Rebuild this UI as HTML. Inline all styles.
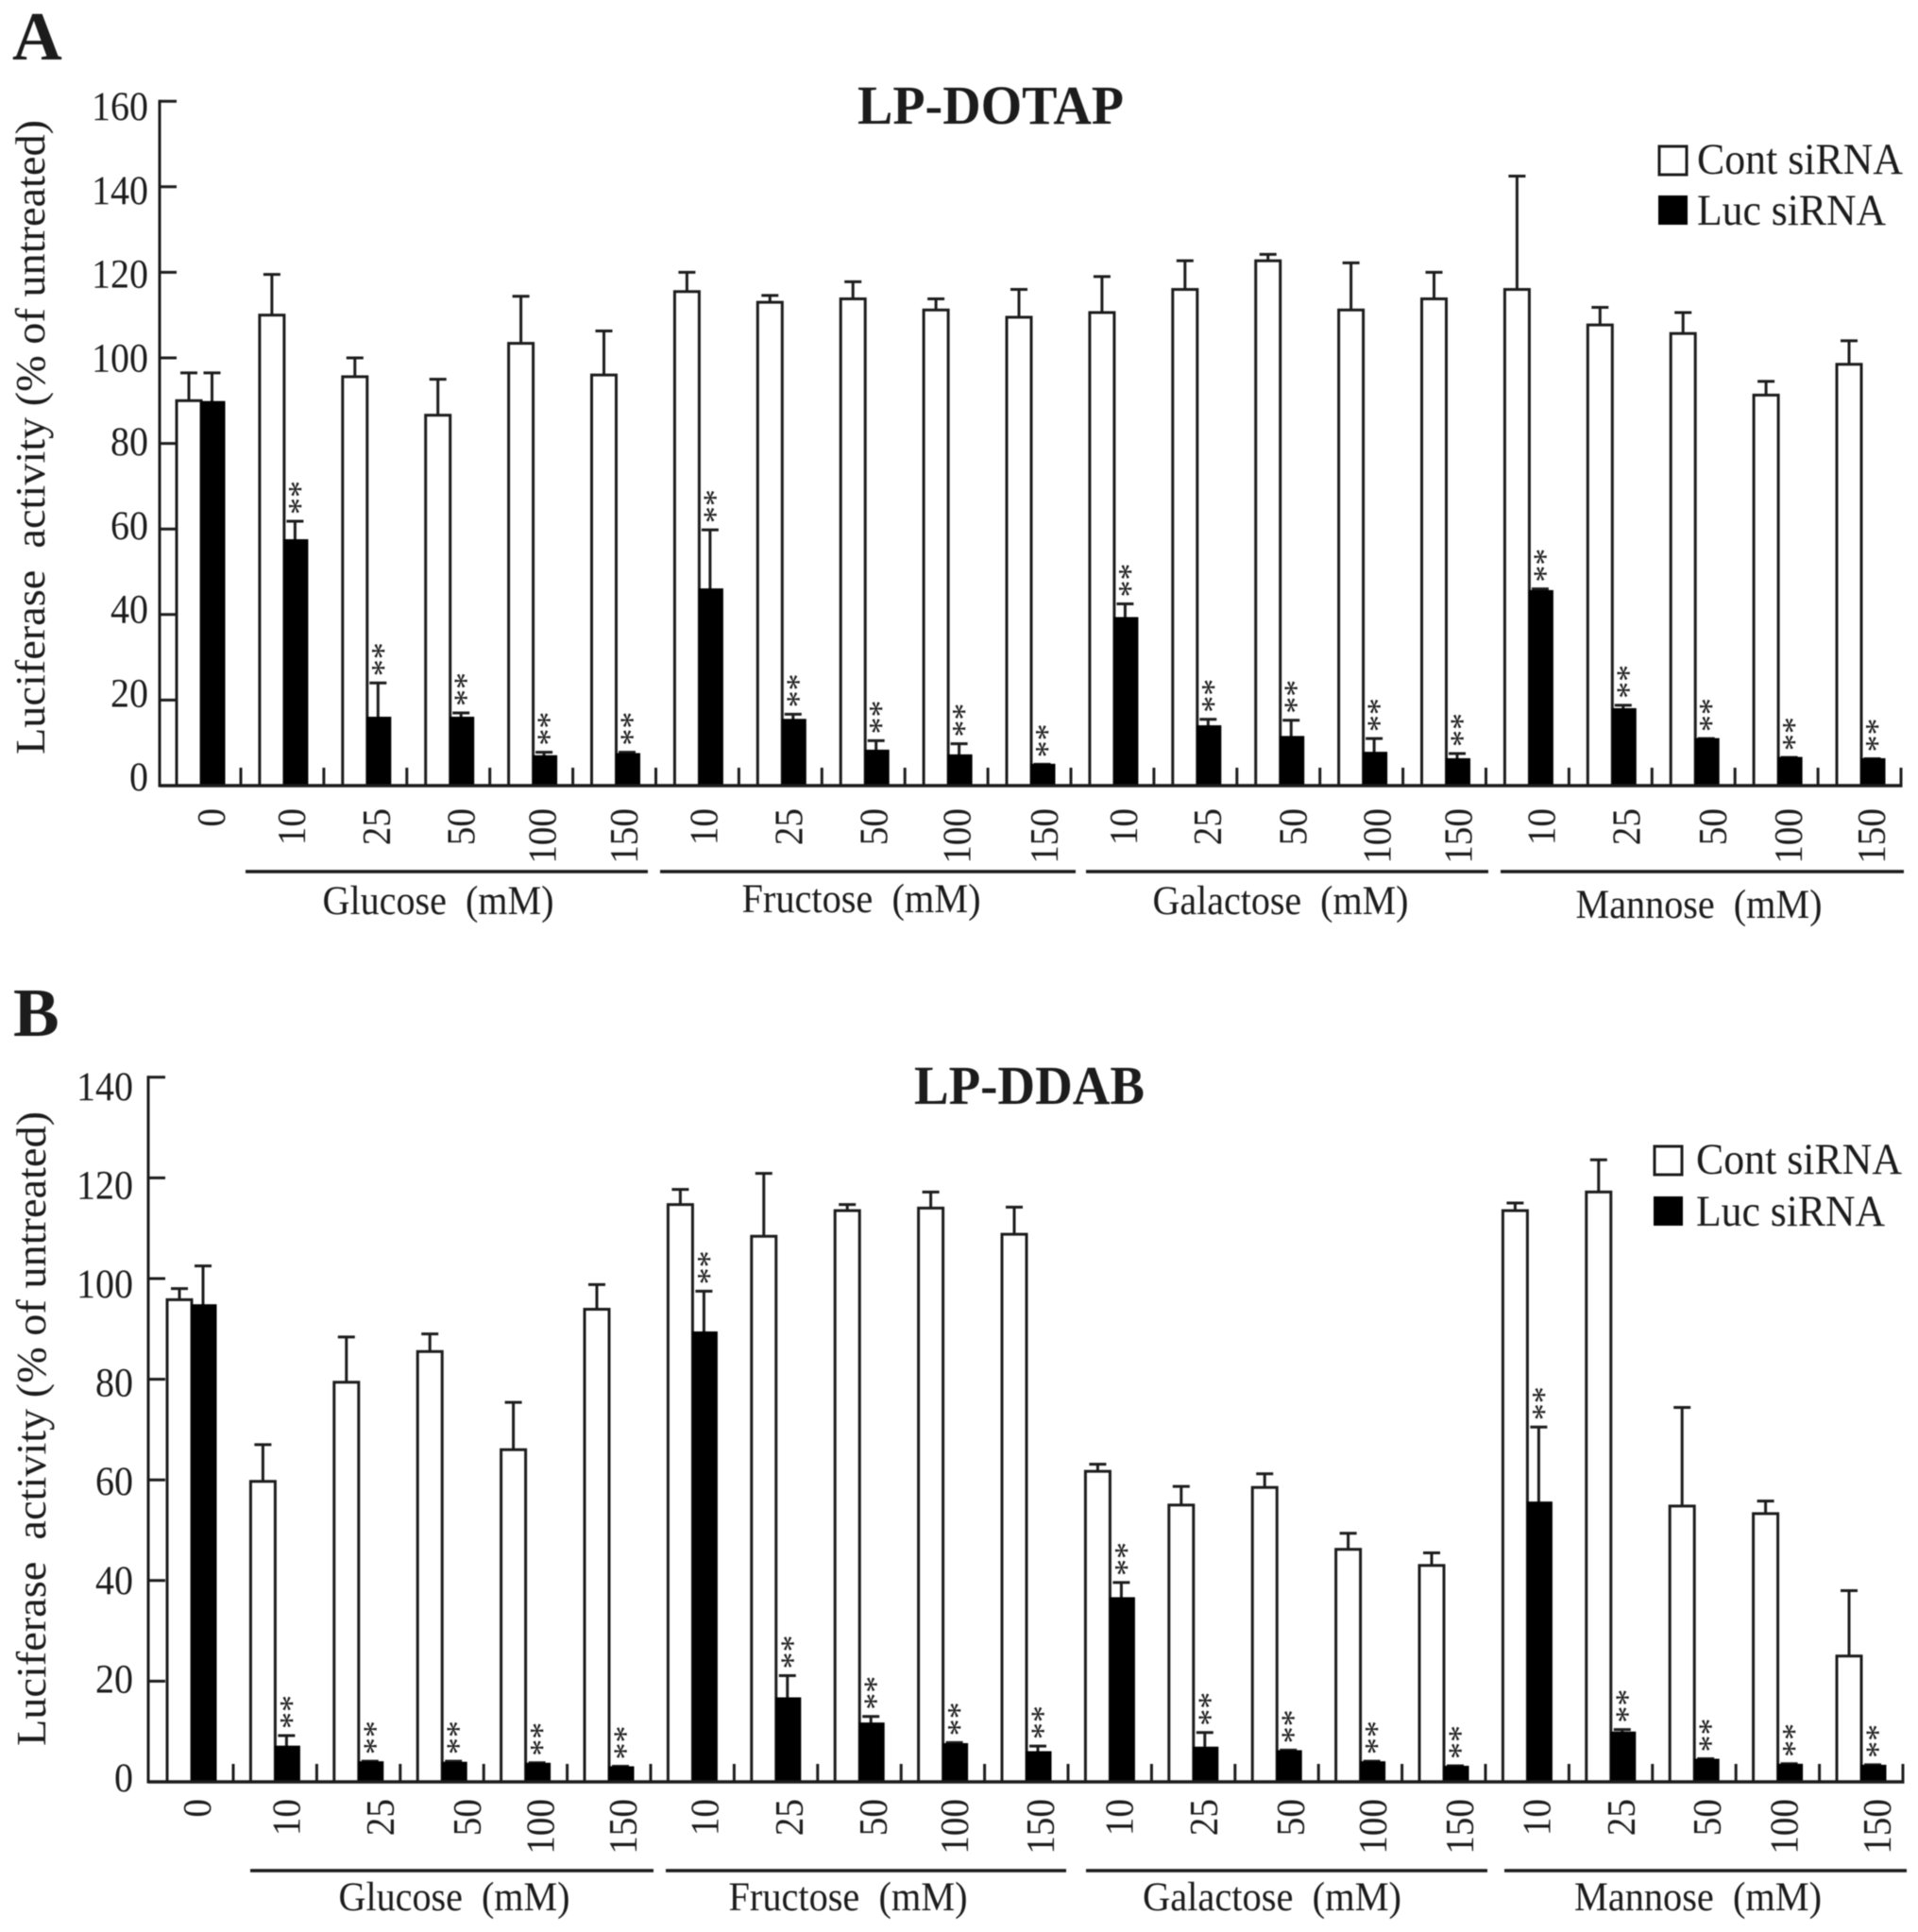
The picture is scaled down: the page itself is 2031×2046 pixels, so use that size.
<!DOCTYPE html>
<html lang="en">
<head>
<meta charset="utf-8">
<title>Luciferase activity – LP-DOTAP and LP-DDAB</title>
<style>
html,body{margin:0;padding:0;background:#fff;}
svg{display:block;filter:blur(0.5px);}
text{font-family:"Liberation Serif",serif;fill:#1c1c1c;white-space:pre;}
</style>
</head>
<body>
<svg id="figure" xmlns="http://www.w3.org/2000/svg" width="2031" height="2046" viewBox="0 0 2031 2046"></svg>
<script>
// Shared categories
const concentrations = ["0","10","25","50","100","150","10","25","50","100","150","10","25","50","100","150","10","25","50","100","150"];
const sugarGroups = ["Glucose  (mM)","Fructose  (mM)","Galactose  (mM)","Mannose  (mM)"];
const seriesNames = ["Cont siRNA","Luc siRNA"];

// Panel A – LP-DOTAP
const dotapTicks = [0,20,40,60,80,100,120,140,160];
const dotapCont = [90,110,95.6,86.6,103.4,96,115.5,113,113.8,111.2,109.5,110.6,116,122.7,111.2,113.8,116,107.7,105.7,91.3,98.5];
const dotapContErrTop = [96.5,119.5,100,95,114.4,106.3,120,114.6,117.8,113.8,116,119,122.7,124.2,122.2,120,142.5,111.8,110.6,94.5,104];
const dotapLuc = [89.8,57.5,16,16,7,7.5,46,15.5,8.3,7.2,5,39.3,14,11.5,7.8,6.3,45.6,18,11,6.6,6.3];
const dotapLucErrTop = [96.5,61.8,24,17,7.8,7.8,59.8,16.7,10.5,9.8,5,42.5,15.5,15.3,11,7.5,46,18.8,11,6.6,6.3];

// Panel B – LP-DDAB
const ddabTicks = [0,20,40,60,80,100,120,140];
const ddabCont = [95.8,59.7,79.4,85.5,66,93.9,114.7,108.4,113.5,114,108.8,61.7,55,58.5,46.2,43,113.5,117.2,54.8,53.3,25];
const ddabContErrTop = [98,67,88.4,89,75.4,98.8,117.7,120.9,114.7,117.2,114.2,63.1,58.7,61.2,49.4,45.5,115,123.6,74.4,55.8,38];
const ddabLuc = [94.8,7.1,4,3.9,3.7,3,89.4,16.7,11.7,7.6,6,36.6,6.9,6.2,4,3.1,55.6,9.9,4.5,3.5,3.3];
const ddabLucErrTop = [102.5,9.2,4.1,4.1,3.8,3.1,97.5,21.1,13,7.8,7.1,39.6,9.8,6.3,4.1,3.2,70.5,10.4,4.6,3.6,3.4];

const NS = "http://www.w3.org/2000/svg";
const INK = "#1c1c1c";
const svg = document.getElementById("figure");

function shape(tag, attrs, parent) {
  const el = document.createElementNS(NS, tag);
  for (const k in attrs) el.setAttribute(k, attrs[k]);
  parent.appendChild(el);
  return el;
}

function drawPanel(cfg) {
  const root = shape("g", {}, svg);
  
  

  const yScale = v => cfg.y0 - v * cfg.pxPerUnit;
  const xBand = i => cfg.x0 + i * cfg.step;
  const xTick = i => cfg.tick0 + i * cfg.step;
  const maxTick = cfg.ticks[cfg.ticks.length - 1];

  // Panel letter
  const letter = shape("text", {x: cfg.letterX, y: cfg.letterY, "font-size": 73, "font-weight": "bold"}, root);
  
  
  letter.textContent = cfg.letter;

  // Chart title
  const title = shape("text", {x: cfg.titleX, y: cfg.titleY, "font-size": 58, "font-weight": "bold", "text-anchor": "middle", textLength: cfg.titleLen, lengthAdjust: "spacingAndGlyphs"}, root);
  
  
  title.textContent = cfg.title;

  // Y axis title
  const yTitle = shape("text", {x: cfg.yTitleX, y: cfg.yTitleY, "font-size": 44, textLength: 672, lengthAdjust: "spacingAndGlyphs", transform: `rotate(-90 ${cfg.yTitleX} ${cfg.yTitleY})`}, root);
  
  
  yTitle.textContent = "Luciferase  activity (% of untreated)";

  // Bars and error bars
  cfg.cont.forEach((v, i) => {
    const x = xBand(i);
    const cx = x + cfg.contW / 2;
    const bar = shape("rect", {x: x, y: yScale(v), width: cfg.contW, height: cfg.y0 - yScale(v), fill: "#fff", stroke: INK, "stroke-width": 3}, root);
    
    
    const stem = shape("line", {x1: cx, x2: cx, y1: yScale(v), y2: yScale(cfg.contErr[i]), stroke: INK, "stroke-width": 3}, root);
    
    
    const cap = shape("line", {x1: cx - 9, x2: cx + 9, y1: yScale(cfg.contErr[i]), y2: yScale(cfg.contErr[i]), stroke: INK, "stroke-width": 3}, root);
    
    
  });
  cfg.luc.forEach((v, i) => {
    const x = xBand(i) + cfg.contW;
    const cx = x + cfg.lucW / 2 - 1;
    const top = yScale(cfg.lucErr[i]);
    const stem = shape("line", {x1: cx, x2: cx, y1: yScale(v), y2: top, stroke: INK, "stroke-width": 3}, root);
    
    
    const cap = shape("line", {x1: cx - 9, x2: cx + 9, y1: top, y2: top, stroke: INK, "stroke-width": 3}, root);
    
    
    const bar = shape("rect", {x: x, y: yScale(v), width: cfg.lucW, height: cfg.y0 - yScale(v), fill: "#000", stroke: "#000", "stroke-width": 1}, root);
    
    
    if (i > 0) {
      const sy = top - 7;
      const sx = cx + 17;
      const stars = shape("text", {x: sx, y: sy, "font-size": 36, fill: "#333", transform: `rotate(-90 ${sx} ${sy})`}, root);
      
      
      stars.textContent = "**";
    }
  });

  // Axes
  const yAxis = shape("line", {x1: cfg.axisX, x2: cfg.axisX, y1: yScale(maxTick) - 1.5, y2: cfg.y0 + 1.5, stroke: INK, "stroke-width": 3}, root);
  
  
  const xAxis = shape("line", {x1: cfg.axisX, x2: xTick(concentrations.length - 1) + 1.5, y1: cfg.y0, y2: cfg.y0, stroke: INK, "stroke-width": 3.5}, root);
  
  

  cfg.ticks.forEach(v => {
    const tick = shape("line", {x1: cfg.axisX, x2: cfg.axisX + 18, y1: yScale(v), y2: yScale(v), stroke: INK, "stroke-width": 3}, root);
    
    
    const s = String(v);
    const lab = shape("text", {x: cfg.yLabelX, y: yScale(v) + cfg.yLabelBase + v / maxTick * cfg.yLabelDrift, "font-size": 43, "text-anchor": "end", textLength: s.length * 20, lengthAdjust: "spacingAndGlyphs"}, root);
    
    
    lab.textContent = s;
  });

  concentrations.forEach((c, i) => {
    const tick = shape("line", {x1: xTick(i), x2: xTick(i), y1: cfg.y0, y2: cfg.y0 - 19, stroke: INK, "stroke-width": 3}, root);
    
    
    const lx = xBand(i) + cfg.contW + cfg.lucW + cfg.xLabelNudge[i];
    const lab = shape("text", {x: lx, y: cfg.xLabelTop, "font-size": 42, "text-anchor": "end", textLength: c.length * 19.6, lengthAdjust: "spacingAndGlyphs", transform: `rotate(-90 ${lx} ${cfg.xLabelTop})`}, root);
    
    
    lab.textContent = c;
  });

  // Sugar group brackets and labels
  sugarGroups.forEach((g, k) => {
    const span = cfg.bracketSpans[k];
    const line = shape("line", {x1: span[0], x2: span[1], y1: cfg.groupY, y2: cfg.groupY, stroke: INK, "stroke-width": 3.5}, root);
    
    
    const lab = shape("text", {x: cfg.groupLabelX[k], y: cfg.groupLabelY[k], "font-size": 43, "text-anchor": "middle", textLength: cfg.groupLabelLen[k], lengthAdjust: "spacingAndGlyphs"}, root);
    
    
    lab.textContent = g;
  });

  // Legend
  const legend = shape("g", {}, root);
  
  
  const swatchA = shape("rect", {x: cfg.legendX, y: cfg.legendY[0], width: 29, height: 30, fill: "#fff", stroke: INK, "stroke-width": 3}, legend);
  
  
  const labelA = shape("text", {x: cfg.legendTextX, y: cfg.legendY[0] + 29, "font-size": 47, textLength: 218, lengthAdjust: "spacingAndGlyphs"}, legend);
  
  
  labelA.textContent = seriesNames[0];
  const swatchB = shape("rect", {x: cfg.legendX, y: cfg.legendY[1], width: 29, height: 29, fill: "#000", stroke: "#000", "stroke-width": 2}, legend);
  
  
  const labelB = shape("text", {x: cfg.legendTextX, y: cfg.legendY[1] + 30, "font-size": 47, textLength: 200, lengthAdjust: "spacingAndGlyphs"}, legend);
  
  
  labelB.textContent = seriesNames[1];
}

drawPanel({
  id: "lp-dotap", letter: "A", letterX: 13, letterY: 63,
  title: "LP-DOTAP", titleX: 1049, titleY: 131, titleLen: 282,
  yTitleX: 47, yTitleY: 799,
  y0: 832, pxPerUnit: 4.53, axisX: 169,
  x0: 187, step: 87.9, tick0: 255, contW: 26, lucW: 25,
  ticks: dotapTicks, cont: dotapCont, contErr: dotapContErrTop, luc: dotapLuc, lucErr: dotapLucErrTop,
  yLabelX: 157, yLabelBase: 5, yLabelDrift: 15,
  xLabelTop: 856,
  xLabelNudge: [0,-3,-1,1,-1,-2.5,-6,-4,-1.6,-1.8,3,-1,0,2.6,3.7,2.2,2,4.4,8,0,0],
  groupY: 923,
  bracketSpans: [[260,686],[699,1139],[1150,1576],[1589,2016]],
  groupLabelX: [464,912,1356,1799], groupLabelY: [968,966,968,972], groupLabelLen: [245,253,271,261],
  legendX: 1757, legendY: [155, 208], legendTextX: 1797
});

drawPanel({
  id: "lp-ddab", letter: "B", letterX: 14, letterY: 1097,
  title: "LP-DDAB", titleX: 1090, titleY: 1169, titleLen: 244,
  yTitleX: 48, yTitleY: 1849,
  y0: 1887, pxPerUnit: 5.33, axisX: 157,
  x0: 177, step: 88.4, tick0: 247, contW: 26, lucW: 26,
  ticks: ddabTicks, cont: ddabCont, contErr: ddabContErrTop, luc: ddabLuc, lucErr: ddabLucErrTop,
  yLabelX: 141, yLabelBase: 10, yLabelDrift: 14,
  xLabelTop: 1905,
  xLabelNudge: [-6,0,11,15,4,3,1,2,3,0.5,3,-2,-1,2.7,1.3,5,-2,-1,2,-5,5],
  groupY: 1981,
  bracketSpans: [[265,692],[705,1129],[1150,1575],[1593,2019]],
  groupLabelX: [481,898,1347,1798], groupLabelY: [2023,2023,2023,2023], groupLabelLen: [245,253,274,262],
  legendX: 1752, legendY: [1214, 1268], legendTextX: 1796
});
</script>
</body>
</html>
